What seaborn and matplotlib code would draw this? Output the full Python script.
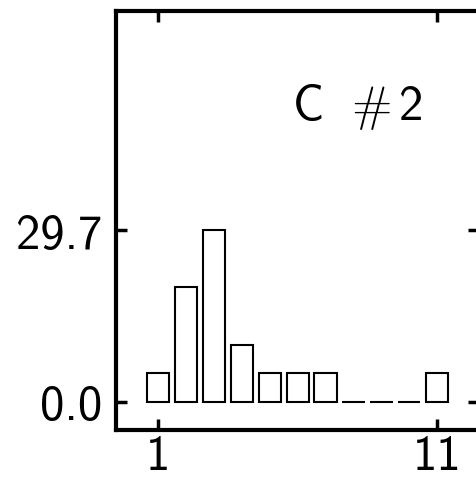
import matplotlib
matplotlib.use("Agg")
import matplotlib.pyplot as plt
import seaborn as sns
import pandas as pd

categories = [1, 2, 3, 4, 5, 6, 7, 8, 9, 10, 11]
values = [4.95, 19.8, 29.7, 9.9, 4.95, 4.95, 4.95, 0.0, 0.0, 0.0, 4.95]
ytick_values = [0.0, 29.7]
ytick_labels = ["0.0", "29.7"]
xtick_values = [1, 11]
xtick_labels = ["1", "11"]
title_text = "C $\\;\\#\\,$2"

sns.set_style("white")
plt.rcParams["font.family"] = ["cmss10", "DejaVu Sans"]
plt.rcParams["mathtext.fontset"] = "cm"
plt.rcParams["axes.formatter.use_mathtext"] = True
plt.rcParams["text.color"] = "black"
plt.rcParams["xtick.color"] = "black"
plt.rcParams["ytick.color"] = "black"

df = pd.DataFrame({"x": categories, "y": values})

fig = plt.figure(figsize=(4.77, 4.81), dpi=100)
W, H = 477, 481
left, right, top, bottom = 116.5, 479, 11.5, 431
ax = fig.add_axes([left / W, 1 - bottom / H, (right - left) / W, (bottom - top) / H])

sns.barplot(data=df, x="x", y="y", native_scale=True, width=0.8,
            color="white", edgecolor="black", linewidth=1.5, ax=ax)

ax.set_xlim(-0.5, 12.5)
ax.set_ylim(-4.85, 67.7)
ax.set_xticks(xtick_values)
ax.set_xticklabels(xtick_labels)
ax.set_yticks(ytick_values)
ax.set_yticklabels(ytick_labels)
ax.set_xlabel("")
ax.set_ylabel("")

for s in ax.spines.values():
    s.set_visible(True)
    s.set_linewidth(3)
    s.set_color("black")

ax.tick_params(axis="both", which="major", direction="in", length=8,
               width=2.5, colors="black", labelcolor="black", labelsize=35,
               top=True, right=True, bottom=True, left=True)
ax.tick_params(axis="y", pad=10)
ax.tick_params(axis="x", pad=3)

ax.text(0.664, 0.772, title_text, transform=ax.transAxes, fontsize=35,
        ha="center", va="center", color="black")

fig.savefig("out.png", dpi=100)
